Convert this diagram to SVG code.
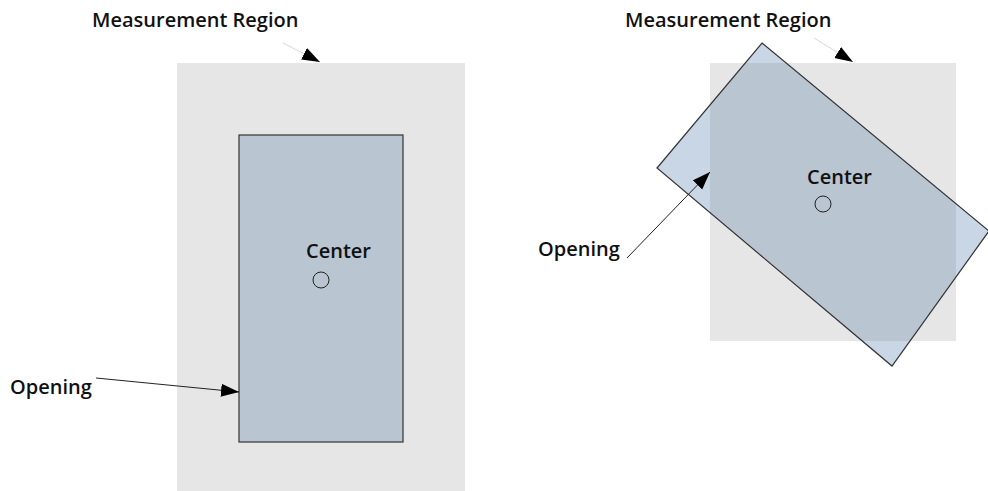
<svg xmlns="http://www.w3.org/2000/svg" width="988" height="491" viewBox="0 0 988 491">
<style>
.lbl{font-family:"Open Sans","Noto Sans",sans-serif;font-weight:600;font-size:20px;fill:#111}
.region{fill:#e6e6e6}
.open{fill:#b9c5d0;stroke:#333;stroke-width:1.2}
.ctr{fill:none;stroke:#222;stroke-width:1}
.ln{fill:none;stroke-width:1;marker-end:url(#ah)}
</style>
<defs>
<marker id="ah" markerUnits="userSpaceOnUse" markerWidth="20" markerHeight="14" refX="18" refY="6.5" orient="auto">
<path d="M0,0 L18,6.5 L0,13 Z" fill="#000"/>
</marker>
<clipPath id="rc"><rect x="710" y="63" width="246" height="278"/></clipPath>
</defs>
<g id="left-region"><rect class="region" x="177" y="63" width="288" height="428"/></g>
<g id="left-opening"><rect class="open" x="239" y="135" width="164" height="307"/></g>
<g id="left-center"><text class="lbl" x="306" y="258">Center</text><circle class="ctr" cx="321" cy="280" r="8"/></g>
<g id="left-labels">
<text class="lbl" x="92" y="27">Measurement Region</text>
<text class="lbl" x="10" y="394">Opening</text>
</g>
<g id="right-region"><rect class="region" x="710" y="63" width="246" height="278"/></g>
<g id="right-opening">
<polygon points="762,43 989,231 892,366 657,168" fill="#c9d6e5"/>
<polygon points="762,43 989,231 892,366 657,168" fill="#b9c5d0" clip-path="url(#rc)"/>
<polygon points="762,43 989,231 892,366 657,168" fill="none" stroke="#333" stroke-width="1.2"/>
</g>
<g id="right-center"><text class="lbl" x="807" y="184">Center</text><circle class="ctr" cx="823" cy="204" r="8"/></g>
<g id="right-labels">
<text class="lbl" x="625" y="27">Measurement Region</text>
<text class="lbl" x="538" y="256">Opening</text>
</g>
<g id="connectors">
<line class="ln" x1="283" y1="43" x2="320" y2="62" stroke="#d8d8d8"/>
<line class="ln" x1="814" y1="38" x2="853" y2="62" stroke="#d8d8d8"/>
<line class="ln" x1="96" y1="378" x2="239" y2="392" stroke="#222"/>
<line class="ln" x1="627" y1="258" x2="710" y2="172" stroke="#222"/>
</g>
</svg>
